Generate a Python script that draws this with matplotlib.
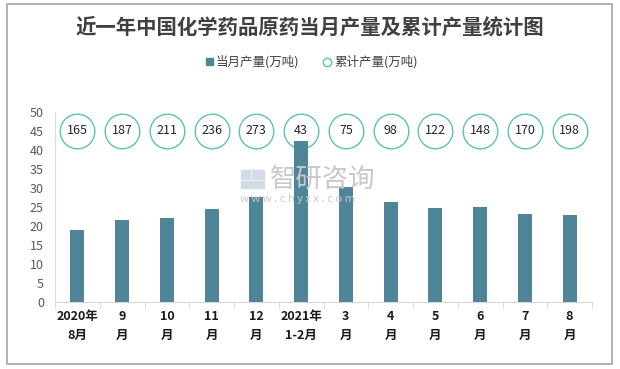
import matplotlib
matplotlib.use("Agg")
from matplotlib import pyplot as plt
from matplotlib.patches import Rectangle, FancyBboxPatch

plt.rcParams['font.family'] = ['Noto Sans CJK SC', 'DejaVu Sans']

months = ['2020年\n8月', '9\n月', '10\n月', '11\n月', '12\n月', '2021年\n1-2月',
          '3\n月', '4\n月', '5\n月', '6\n月', '7\n月', '8\n月']
monthly = [18.9, 21.6, 22.1, 24.5, 27.6, 42.4, 30.3, 26.3, 24.7, 25.0, 23.2, 22.9]
cumulative = [165, 187, 211, 236, 273, 43, 75, 98, 122, 148, 170, 198]

bar_color = '#4f8599'
ring_color = '#5cc2b6'

fig = plt.figure(figsize=(6.2, 3.69), dpi=100)
# outer frame
fig.patches.append(Rectangle((7 / 620, 5 / 369), 605 / 620, 360 / 369,
                             transform=fig.transFigure, fill=False,
                             edgecolor='#a6a6a6', linewidth=1.2))

# watermark (drawn under the plot)
for (lx, ly, w, h) in [(241, 170, 9, 9), (252, 170, 12, 9), (241, 181, 23, 7)]:
    fig.patches.append(Rectangle((lx / 620, (369 - ly - h) / 369), w / 620, h / 369,
                                 transform=fig.transFigure, color='#d3dae8', zorder=0))
fig.text(270 / 620, 0.515, '智研咨询', fontsize=19, color='#c8c8c8', ha='left',
         va='center', zorder=0)
fig.text(240 / 620, 0.462, 'w w w . c h y x x . c o m', fontsize=8, color='#c8c8c8',
         ha='left', va='center', zorder=0)

ax = fig.add_axes([55 / 620, 67 / 369, 537 / 620, 190 / 369])
ax.patch.set_alpha(0)
x = list(range(len(months)))
ax.bar(x, monthly, width=0.31, color=bar_color, zorder=5)

# cumulative values shown as labelled rings along the top
ring_y = [45] * len(cumulative)
ax.scatter(x, ring_y, s=620, facecolor='white', edgecolor=ring_color,
           linewidth=1.0, zorder=3, clip_on=False)
for xi, v in zip(x, cumulative):
    ax.text(xi, 45, str(v), ha='center', va='center', fontsize=9,
            color='#262626', zorder=6)

ax.set_xlim(-0.5, len(months) - 0.5)
ax.set_ylim(0, 50)
ax.set_yticks(range(0, 51, 5))
ax.tick_params(axis='y', length=0, labelsize=9, labelcolor='#595959', pad=8)
ax.set_xticks(x)
ax.set_xticklabels(months, fontsize=9, fontweight='bold', color='#1a1a1a',
                   linespacing=1.6)
ax.tick_params(axis='x', length=0, pad=6)
ax.set_xticks([i - 0.5 for i in range(len(months) + 1)], minor=True)
ax.tick_params(axis='x', which='minor', length=5, color='#d9d9d9')
for s in ['top', 'right']:
    ax.spines[s].set_visible(False)
ax.spines['left'].set_color('#d9d9d9')
ax.spines['bottom'].set_color('#d9d9d9')

fig.text(0.5, 0.927, '近一年中国化学药品原药当月产量及累计产量统计图', ha='center',
         va='center', fontsize=14.7, fontweight='bold', color='#404040')

# legend
fig.patches.append(Rectangle((206 / 620, 304 / 369), 7 / 620, 7 / 369,
                             transform=fig.transFigure, color=bar_color))
fig.text(216 / 620, 0.833, '当月产量(万吨)', fontsize=9, color='#404040', va='center')
fig.lines.append(plt.Line2D([327 / 620], [0.833], marker='o', markersize=6,
                            markerfacecolor='white', markeredgecolor=ring_color,
                            transform=fig.transFigure))
fig.text(334 / 620, 0.833, '累计产量(万吨)', fontsize=9, color='#404040', va='center')

fig.savefig('out.png', dpi=100)
